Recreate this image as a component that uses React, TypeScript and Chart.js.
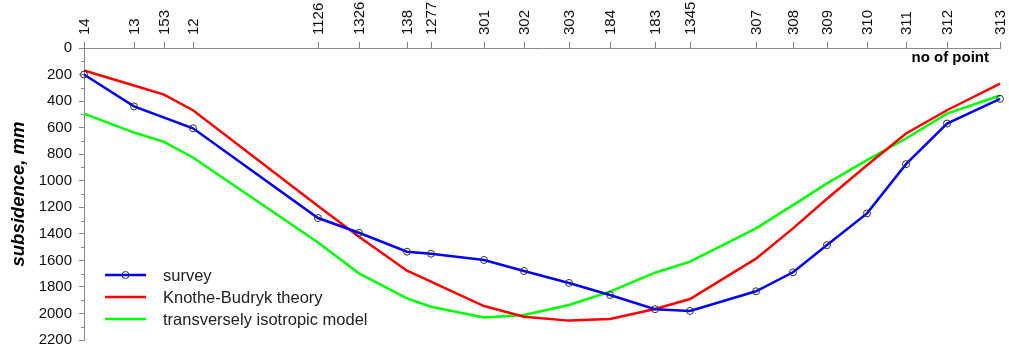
import { useEffect, useRef } from "react";
import { Chart, registerables } from "chart.js";

Chart.register(...registerables);

// Survey points along the profile line and their distance from point 14
const pointNames = ["14", "13", "153", "12", "1126", "1326", "138", "1277", "301", "302", "303", "184", "183", "1345", "307", "308", "309", "310", "311", "312", "313"];
const distances = [0, 50, 80, 109, 234, 275, 323, 347, 400, 440, 485, 526, 571, 606, 672, 709, 743, 783, 822, 863, 916];

// Subsidence, mm (null = not measured)
const surveyValues = [200, 440, null, 605, 1281, 1392, 1535, 1550, 1597, 1680, 1770, 1861, 1968, 1981, 1833, 1690, 1485, 1246, 875, 569, 383];
const knotheValues = [170, 283, 351, 469, 1190, 1422, 1678, 1761, 1944, 2024, 2054, 2041, 1966, 1891, 1587, 1359, 1136, 883, 644, 469, 268];
const isotropicValues = [494, 637, 707, 825, 1465, 1698, 1886, 1949, 2031, 2011, 1936, 1836, 1693, 1610, 1359, 1184, 1020, 845, 682, 494, 358];

const seriesLabels = ["survey", "Knothe-Budryk theory", "transversely isotropic model"];
const seriesColors = ["#0000ff", "#ff0000", "#00ff00"];

const FONT = '"Liberation Sans", Arial, sans-serif';

const toPoints = (values: (number | null)[]) =>
  values
    .map((v, i) => (v === null ? null : { x: distances[i], y: v }))
    .filter((p) => p !== null) as { x: number; y: number }[];

const extrasPlugin = {
  id: "extras",
  afterDraw(chart: any) {
    const { ctx, chartArea, scales } = chart;
    const x = scales.x;
    const y = scales.y;
    ctx.save();
    // minor ticks on the subsidence axis
    ctx.strokeStyle = "#888";
    ctx.lineWidth = 1;
    for (let v = 100; v < 2200; v += 200) {
      const py = Math.round(y.getPixelForValue(v)) + 0.5;
      ctx.beginPath();
      ctx.moveTo(chartArea.left - 3, py);
      ctx.lineTo(chartArea.left, py);
      ctx.stroke();
    }

    // vertical point names above the top axis
    ctx.fillStyle = "#111";
    ctx.font = `15px ${FONT}`;
    ctx.textAlign = "left";
    ctx.textBaseline = "middle";
    distances.forEach((d, i) => {
      const px = x.getPixelForValue(d);
      ctx.save();
      ctx.translate(px + 1, chartArea.top - 13);
      ctx.rotate(-Math.PI / 2);
      ctx.fillText(pointNames[i], 0, 0);
      ctx.restore();
    });

    // axis caption for the point axis
    ctx.fillStyle = "#000";
    ctx.font = `bold 15px ${FONT}`;
    ctx.textAlign = "right";
    ctx.textBaseline = "middle";
    ctx.fillText("no of point", chartArea.right - 11, chartArea.top + 10);

    // legend
    ctx.font = `16.5px ${FONT}`;
    ctx.textAlign = "left";
    const rows = [275, 297, 319];
    chart.data.datasets.forEach((ds: any, i: number) => {
      const ry = rows[i];
      ctx.strokeStyle = ds.borderColor;
      ctx.lineWidth = 2.5;
      ctx.beginPath();
      ctx.moveTo(105, ry);
      ctx.lineTo(146, ry);
      ctx.stroke();
      if (i === 0) {
        ctx.strokeStyle = "#333";
        ctx.lineWidth = 1;
        ctx.beginPath();
        ctx.arc(125.5, ry, 3.5, 0, Math.PI * 2);
        ctx.stroke();
      }
      ctx.fillStyle = "#222";
      ctx.fillText(ds.label, 163, ry + 1);
    });
    ctx.restore();
  },
};

export default function App() {
  const canvasRef = useRef<HTMLCanvasElement | null>(null);

  useEffect(() => {
    document.body.style.margin = "0";
    Chart.defaults.font.family = FONT;
    const chart = new Chart(canvasRef.current as HTMLCanvasElement, {
      type: "line",
      data: {
        datasets: [
          {
            label: seriesLabels[0],
            data: toPoints(surveyValues),
            borderColor: seriesColors[0],
            borderWidth: 2.5,
            pointRadius: 3.5,
            pointBorderColor: "#333",
            pointBorderWidth: 1,
            pointBackgroundColor: "rgba(0,0,0,0)",
            tension: 0,
            clip: false,
            order: 0,
          },
          {
            label: seriesLabels[1],
            data: toPoints(knotheValues),
            borderColor: seriesColors[1],
            borderWidth: 2.5,
            pointRadius: 0,
            tension: 0,
            clip: false,
            order: 1,
          },
          {
            label: seriesLabels[2],
            data: toPoints(isotropicValues),
            borderColor: seriesColors[2],
            borderWidth: 2.5,
            pointRadius: 0,
            tension: 0,
            clip: false,
            order: 2,
          },
        ],
      },
      options: {
        responsive: false,
        animation: false,
        layout: { padding: { left: 0, right: 9, top: 0, bottom: 8 } },
        plugins: { legend: { display: false }, tooltip: { enabled: false } },
        scales: {
          x: {
            type: "linear",
            position: "top",
            min: distances[0],
            max: distances[distances.length - 1],
            afterFit: (s: any) => {
              s.height = 48;
              s.paddingLeft = 0;
              s.paddingRight = 0;
            },
            afterBuildTicks: (s: any) => {
              s.ticks = distances.map((d) => ({ value: d }));
            },
            grid: { drawOnChartArea: false, tickLength: 6, color: "#888" },
            border: { color: "#888", width: 1 },
            ticks: { display: false, autoSkip: false },
          },
          y: {
            type: "linear",
            reverse: true,
            min: 0,
            max: 2200,
            afterFit: (s: any) => {
              s.width = 84;
              s.paddingTop = 0;
              s.paddingBottom = 0;
            },
            grid: { drawOnChartArea: false, tickLength: 5, color: "#888" },
            border: { color: "#888", width: 1 },
            ticks: {
              stepSize: 200,
              padding: 7,
              color: "#111",
              font: { size: 15 },
              callback: (v: any) => String(v),
            },
            title: {
              display: true,
              text: "subsidence, mm",
              color: "#000",
              font: { size: 18.5, weight: "bold", style: "italic" },
              padding: { top: 8, bottom: 0 },
            },
          },
        },
      },
      plugins: [extrasPlugin],
    } as any);
    return () => chart.destroy();
  }, []);

  return (
    <div style={{ position: "absolute", left: 0, top: 0, width: 1009, height: 348, background: "#fff" }}>
      <canvas ref={canvasRef} width={1009} height={348} style={{ display: "block" }} />
    </div>
  );
}
